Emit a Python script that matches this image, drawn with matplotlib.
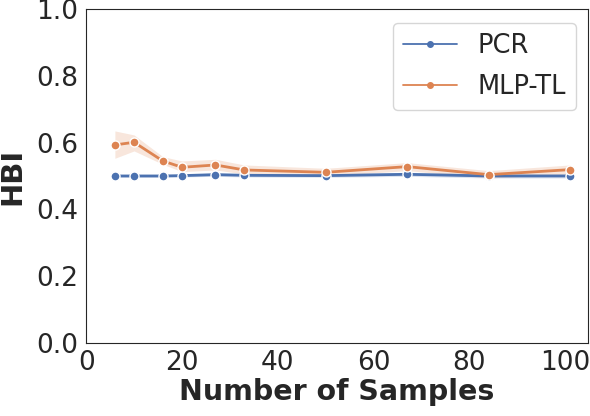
"""
HBI vs number of samples for PCR and MLP-TL.
Outputs: out.png
"""

import numpy as np
import matplotlib
matplotlib.use("Agg")
import matplotlib.pyplot as plt
import seaborn as sns
from matplotlib.lines import Line2D

# ── Data ──────────────────────────────────────────────────────────────────────
n_samples = [6, 10, 16, 20, 27, 33, 50, 67, 84, 101]

pcr_mean  = [0.500, 0.500, 0.500, 0.501, 0.504, 0.502, 0.501, 0.505, 0.500, 0.500]
pcr_lo    = [0.496, 0.496, 0.496, 0.497, 0.499, 0.497, 0.496, 0.499, 0.494, 0.494]
pcr_hi    = [0.504, 0.504, 0.504, 0.505, 0.509, 0.507, 0.506, 0.511, 0.506, 0.506]

mlp_mean  = [0.593, 0.601, 0.545, 0.526, 0.533, 0.518, 0.511, 0.528, 0.504, 0.519]
mlp_lo    = [0.553, 0.575, 0.535, 0.513, 0.518, 0.506, 0.500, 0.516, 0.494, 0.506]
mlp_hi    = [0.635, 0.623, 0.558, 0.545, 0.550, 0.533, 0.523, 0.540, 0.516, 0.533]

BLUE   = "#4c72b0"
ORANGE = "#dd8452"

# ── Plot ──────────────────────────────────────────────────────────────────────
sns.set_style("white")
plt.rcParams["font.family"] = ["DejaVu Sans"]

fig, ax = plt.subplots(figsize=(5.9, 4.16), dpi=100)
fig.subplots_adjust(left=0.146, right=0.997, top=0.978, bottom=0.176)

for mean, lo, hi, col in [(pcr_mean, pcr_lo, pcr_hi, BLUE),
                          (mlp_mean, mlp_lo, mlp_hi, ORANGE)]:
    ax.fill_between(n_samples, lo, hi, color=col, alpha=0.2, linewidth=0)
    ax.plot(n_samples, mean, color=col, lw=2, marker="o", ms=6.5,
            markeredgecolor="white", markeredgewidth=1.0)

ax.set_xlim(0, 104.8)
ax.set_ylim(0.0, 1.0)
ax.set_xticks([0, 20, 40, 60, 80, 100])
ax.set_yticks([0.0, 0.2, 0.4, 0.6, 0.8, 1.0])
ax.tick_params(labelsize=19, pad=2)
ax.set_xlabel("Number of Samples", fontsize=20.5, fontweight="bold", labelpad=1)
ax.set_ylabel("HBI", fontsize=21, fontweight="bold", labelpad=7)

handles = [Line2D([], [], color=BLUE, lw=1.3, marker="o", ms=4),
           Line2D([], [], color=ORANGE, lw=1.3, marker="o", ms=4)]
ax.legend(handles, ["PCR", "MLP-TL"], loc="upper right", fontsize=18.5,
          handlelength=2.1, borderpad=0.4, labelspacing=0.55,
          borderaxespad=0, bbox_to_anchor=(0.976, 0.958))

plt.savefig("out.png", dpi=100)
plt.close()
